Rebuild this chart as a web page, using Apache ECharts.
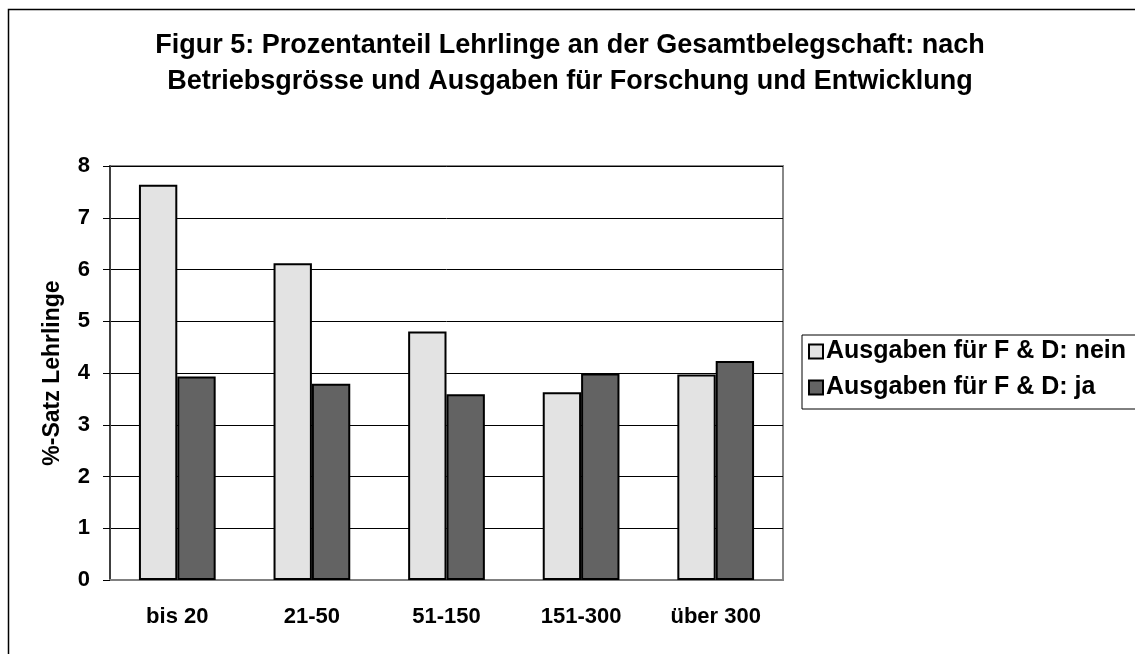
<!DOCTYPE html>
<html style="height: 100%">

<head>
    <meta charset="utf-8">
</head>

<body style="height: 100%; margin: 0; background: #fff">
    <div id="container" style="width: 1135px; height: 654px"></div>
    <script type="text/javascript" src="https://cdn.jsdelivr.net/npm/echarts@6/dist/echarts.min.js"></script>
    <script type="text/javascript">
        // Betriebsgrösse
        var categories = ['bis 20', '21-50', '51-150', '151-300', 'über 300'];
        // Ausgaben für F & D
        var seriesNames = ['Ausgaben für F & D: nein', 'Ausgaben für F & D: ja'];
        var valuesNein = [7.64, 6.12, 4.80, 3.63, 3.97];
        var valuesJa = [3.93, 3.79, 3.59, 3.99, 4.23];
        var yTicks = [0, 1, 2, 3, 4, 5, 6, 7, 8];

        var font = '"Liberation Sans", Arial, sans-serif';
        var dom = document.getElementById("container");
        var myChart = echarts.init(dom);

        var option = {
            animation: false,
            backgroundColor: '#fff',
            textStyle: { fontFamily: font },
            title: {
                text: 'Figur 5: Prozentanteil Lehrlinge an der Gesamtbelegschaft: nach\nBetriebsgrösse und Ausgaben für Forschung und Entwicklung',
                left: 565,
                top: 23,
                textAlign: 'center',
                textStyle: {
                    fontFamily: font,
                    fontWeight: 'bold',
                    fontSize: 27,
                    lineHeight: 36,
                    color: '#000'
                }
            },
            legend: {
                orient: 'vertical',
                left: 802,
                top: 335,
                icon: 'rect',
                itemWidth: 14,
                itemHeight: 14,
                itemGap: 11,
                padding: [4, 40, 9, 6],
                borderColor: '#000',
                borderWidth: 1,
                textStyle: {
                    fontFamily: font,
                    fontWeight: 'bold',
                    fontSize: 25,
                    color: '#000',
                    padding: [0, 0, 0, -2]
                },
                data: seriesNames
            },
            grid: {
                left: 110,
                right: 352,
                top: 166,
                bottom: 74,
                show: true,
                borderColor: '#888',
                borderWidth: 2
            },
            xAxis: {
                type: 'category',
                data: categories,
                axisLine: { lineStyle: { color: '#808080', width: 2 } },
                axisTick: { length: 8, lineStyle: { color: '#000', width: 1 } },
                axisLabel: {
                    margin: 26,
                    fontFamily: font,
                    fontWeight: 'bold',
                    fontSize: 22,
                    color: '#000'
                }
            },
            yAxis: {
                type: 'value',
                min: yTicks[0],
                max: yTicks[yTicks.length - 1],
                interval: 1,
                name: '%-Satz Lehrlinge',
                nameLocation: 'middle',
                nameGap: 46,
                nameTextStyle: {
                    fontFamily: font,
                    fontWeight: 'bold',
                    fontSize: 23,
                    color: '#000'
                },
                axisLine: { show: true, lineStyle: { color: '#404040', width: 2 } },
                axisTick: { show: true, length: 7, lineStyle: { color: '#000', width: 1 } },
                axisLabel: {
                    margin: 20,
                    fontFamily: font,
                    fontWeight: 'bold',
                    fontSize: 22,
                    color: '#000'
                },
                splitLine: { lineStyle: { color: '#000', width: 1 } }
            },
            series: [{
                    name: seriesNames[0],
                    type: 'bar',
                    data: valuesNein,
                    barGap: '0%',
                    barCategoryGap: '43%',
                    itemStyle: { color: '#e3e3e3', borderColor: '#000', borderWidth: 2 }
                },
                {
                    name: seriesNames[1],
                    type: 'bar',
                    data: valuesJa,
                    barGap: '0%',
                    barCategoryGap: '43%',
                    itemStyle: { color: '#636363', borderColor: '#000', borderWidth: 2 }
                }
            ],
            graphic: [{
                type: 'rect',
                silent: true,
                z: -1,
                shape: { x: 8.5, y: 9.5, width: 1200, height: 700 },
                style: { fill: 'none', stroke: '#000', lineWidth: 1.5 }
            }]
        };
        myChart.setOption(option, true);
    </script>
</body>

</html>
